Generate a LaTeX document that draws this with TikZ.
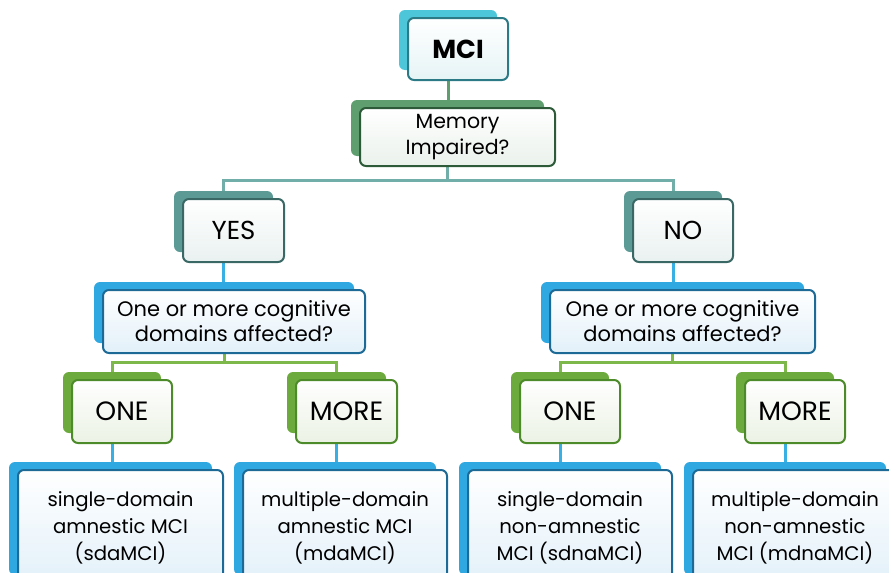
\documentclass[tikz,border=0pt]{standalone}
\usepackage{fontspec}
\setmainfont{Poppins}
\usetikzlibrary{backgrounds}
\definecolor{cyanB}{HTML}{4CC6D8}
\definecolor{cyanD}{HTML}{2C7A86}
\definecolor{cyanT}{HTML}{E6F4F6}
\definecolor{greenB}{HTML}{5F9F6F}
\definecolor{greenD}{HTML}{2D5A38}
\definecolor{greenT}{HTML}{EAF1EB}
\definecolor{tealB}{HTML}{5C9A95}
\definecolor{tealD}{HTML}{3A6865}
\definecolor{tealT}{HTML}{E9F1F0}
\definecolor{blueB}{HTML}{2FA7E0}
\definecolor{blueD}{HTML}{1D6A97}
\definecolor{blueT}{HTML}{E2F0F9}
\definecolor{limeB}{HTML}{6CAA3E}
\definecolor{limeD}{HTML}{4C8A2A}
\definecolor{limeT}{HTML}{EBF2E4}
\definecolor{cGreen}{HTML}{5F9F6F}
\definecolor{cTeal}{HTML}{72AEA9}
\definecolor{cBlue}{HTML}{38B0E3}
\definecolor{cLime}{HTML}{7DB84A}
\tikzset{
  backbox/.style={rounded corners=6pt, inner sep=0pt},
  frontbox/.style={rounded corners=6pt, inner sep=0pt, align=center, line width=2pt, top color=white},
  mciback/.style={fill=cyanB},
  mcifront/.style={draw=cyanD, bottom color=cyanT, font=\fontsize{26}{32}\selectfont\bfseries},
  memback/.style={fill=greenB},
  memfront/.style={draw=greenD, bottom color=greenT, font=\fontsize{20.5}{26}\selectfont},
  ynback/.style={fill=tealB},
  ynfront/.style={draw=tealD, bottom color=tealT, font=\fontsize{26}{30}\selectfont},
  qback/.style={fill=blueB},
  qfront/.style={draw=blueD, bottom color=blueT, font=\fontsize{21}{25}\selectfont},
  omback/.style={fill=limeB},
  omfront/.style={draw=limeD, bottom color=limeT, font=\fontsize{26.5}{30}\selectfont},
  leafback/.style={fill=blueB},
  leaffront/.style={draw=blueD, bottom color=blueT, font=\fontsize{19.7}{27}\selectfont},
  conn/.style={line width=3pt}
}
\newcommand\mkbox[7]{%
  \node[backbox,#6back,minimum width=#4-2,minimum height=#5-2] (#1B) at ({#2-10},{#3-9}) {};
  \node[frontbox,#6front,minimum width=#4,minimum height=#5] (#1) at (#2,#3) {#7};
}
\begin{document}
\begin{tikzpicture}[x=1pt,y=-1pt]
\useasboundingbox (0,0) rectangle (889,573);
\clip (0,0) rectangle (889,573);
\mkbox{mci}{458}{49}{100}{62}{mci}{MCI}
\mkbox{mem}{457.5}{137}{195}{58}{mem}{Memory\\Impaired?}
\mkbox{yes}{233.5}{230.5}{101}{63}{yn}{YES}
\mkbox{no}{683}{230.5}{100}{63}{yn}{NO}
\mkbox{qL}{234}{321.5}{262}{63}{q}{One or more cognitive\\domains affected?}
\mkbox{qR}{682.5}{321.5}{265}{63}{q}{One or more cognitive\\domains affected?}
\mkbox{oneL}{122}{411.5}{100}{63}{om}{ONE}
\mkbox{moreL}{346.5}{411.5}{101}{63}{om}{MORE}
\mkbox{oneR}{570}{411.5}{100}{63}{om}{ONE}
\mkbox{moreR}{795}{411.5}{100}{63}{om}{MORE}
\mkbox{lfA}{120.5}{527.5}{205}{115}{leaf}{single-domain\\amnestic MCI\\(sdaMCI)}
\mkbox{lfB}{345}{527.5}{204}{115}{leaf}{multiple-domain\\amnestic MCI\\(mdaMCI)}
\mkbox{lfC}{570}{527.5}{204}{115}{leaf}{single-domain\\non-amnestic\\MCI (sdnaMCI)}
\mkbox{lfD}{795}{527.5}{204}{115}{leaf}{multiple-domain\\non-amnestic\\MCI (mdnaMCI)}
\coordinate (busA) at (0,180);
\coordinate (busB) at (0,362);
\begin{scope}[on background layer]
\draw[conn,cGreen] (mciB.center) -- (mciB.center |- memB.center);
\draw[conn,cTeal] (memB.center) -- (memB.center |- busA) -| (yesB.center);
\draw[conn,cTeal] (memB.center |- busA) -| (noB.center);
\draw[conn,cBlue] (yesB.center) -- (yesB.center |- qLB.center);
\draw[conn,cBlue] (noB.center) -- (noB.center |- qRB.center);
\draw[conn,cLime] (qLB.center) -- (qLB.center |- busB) -| (oneLB.center);
\draw[conn,cLime] (qLB.center |- busB) -| (moreLB.center);
\draw[conn,cLime] (qRB.center) -- (qRB.center |- busB) -| (oneRB.center);
\draw[conn,cLime] (qRB.center |- busB) -| (moreRB.center);
\draw[conn,cBlue] (oneLB.center) -- (oneLB.center |- lfAB.center);
\draw[conn,cBlue] (moreLB.center) -- (moreLB.center |- lfBB.center);
\draw[conn,cBlue] (oneRB.center) -- (oneRB.center |- lfCB.center);
\draw[conn,cBlue] (moreRB.center) -- (moreRB.center |- lfDB.center);
\end{scope}
\end{tikzpicture}
\end{document}
